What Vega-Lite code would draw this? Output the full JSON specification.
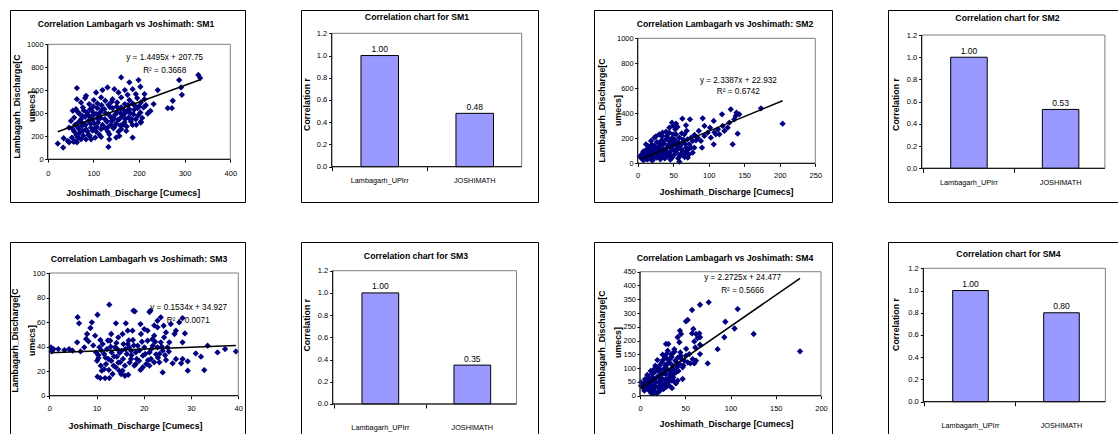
{
"$schema": "https://vega.github.io/schema/vega-lite/v6.json",
"padding": {"left": 9, "top": 9, "right": 0, "bottom": 0},
"background": "white",
"datasets": {
"sm1": [{"x":22,"y":137},{"x":34,"y":102},{"x":35,"y":183},{"x":44,"y":160},{"x":47,"y":148},{"x":53,"y":189},{"x":57,"y":151},{"x":60,"y":160},{"x":64,"y":148},{"x":67,"y":189},{"x":73,"y":174},{"x":84,"y":174},{"x":89,"y":212},{"x":95,"y":174},{"x":104,"y":189},{"x":117,"y":195},{"x":135,"y":174},{"x":135,"y":218},{"x":150,"y":189},{"x":157,"y":203},{"x":186,"y":189},{"x":133,"y":108},
{"x":47,"y":276},{"x":55,"y":262},{"x":58,"y":241},{"x":66,"y":282},{"x":77,"y":247},{"x":84,"y":262},{"x":95,"y":276},{"x":106,"y":241},{"x":117,"y":262},{"x":131,"y":276},{"x":146,"y":282},{"x":161,"y":262},{"x":172,"y":247},
{"x":51,"y":334},{"x":58,"y":363},{"x":67,"y":320},{"x":73,"y":349},{"x":80,"y":305},{"x":89,"y":334},{"x":95,"y":363},{"x":102,"y":311},{"x":111,"y":349},{"x":120,"y":299},{"x":130,"y":328},{"x":139,"y":363},{"x":150,"y":311},{"x":157,"y":349},{"x":168,"y":320},{"x":177,"y":363},{"x":186,"y":299},{"x":193,"y":349},{"x":204,"y":328},
{"x":55,"y":422},{"x":62,"y":436},{"x":69,"y":398},{"x":77,"y":451},{"x":86,"y":407},{"x":93,"y":436},{"x":101,"y":392},{"x":109,"y":445},{"x":115,"y":407},{"x":124,"y":436},{"x":133,"y":392},{"x":142,"y":445},{"x":152,"y":407},{"x":161,"y":451},{"x":169,"y":398},{"x":179,"y":436},{"x":188,"y":392},{"x":197,"y":445},{"x":203,"y":407},{"x":210,"y":451},{"x":219,"y":398},
{"x":64,"y":523},{"x":73,"y":494},{"x":82,"y":532},{"x":91,"y":480},{"x":101,"y":515},{"x":109,"y":485},{"x":117,"y":538},{"x":126,"y":509},{"x":133,"y":474},{"x":142,"y":523},{"x":152,"y":494},{"x":161,"y":538},{"x":169,"y":480},{"x":179,"y":515},{"x":186,"y":485},{"x":196,"y":532},{"x":204,"y":494},{"x":212,"y":523},
{"x":64,"y":619},{"x":84,"y":552},{"x":106,"y":581},{"x":120,"y":602},{"x":131,"y":625},{"x":146,"y":610},{"x":155,"y":581},{"x":161,"y":712},{"x":169,"y":602},{"x":175,"y":561},{"x":179,"y":669},{"x":186,"y":610},{"x":193,"y":567},{"x":199,"y":689},{"x":203,"y":631},{"x":212,"y":567},{"x":241,"y":602},
{"x":263,"y":445},{"x":272,"y":445},{"x":274,"y":509},{"x":288,"y":689},{"x":292,"y":625},{"x":294,"y":561},{"x":330,"y":733},{"x":334,"y":706},{"x":204,"y":320},
{"x":70,"y":230},{"x":75,"y":290},{"x":82,"y":370},{"x":98,"y":250},{"x":108,"y":280},{"x":112,"y":380},{"x":125,"y":350},{"x":128,"y":265},{"x":138,"y":300},{"x":145,"y":355},{"x":155,"y":240},{"x":160,"y":400},{"x":165,"y":300},{"x":174,"y":420},{"x":182,"y":330},{"x":190,"y":470},{"x":198,"y":380},{"x":60,"y":300},{"x":66,"y":410},{"x":78,"y":205},{"x":92,"y":205},{"x":100,"y":460},{"x":118,"y":470},{"x":140,"y":500},{"x":158,"y":440},
{"x":63,"y":210},{"x":68,"y":265},{"x":72,"y":330},{"x":76,"y":375},{"x":79,"y":425},{"x":83,"y":300},{"x":87,"y":240},{"x":90,"y":380},{"x":94,"y":310},{"x":97,"y":420},{"x":99,"y":345},{"x":103,"y":265},{"x":106,"y":395},{"x":110,"y":320},{"x":113,"y":215},{"x":116,"y":360},{"x":119,"y":430},{"x":122,"y":285},{"x":127,"y":400},{"x":129,"y":330},{"x":132,"y":240},{"x":136,"y":455},{"x":141,"y":335},{"x":144,"y":270},{"x":147,"y":385},{"x":151,"y":460},{"x":154,"y":345},{"x":159,"y":295},{"x":163,"y":375},{"x":166,"y":430},{"x":170,"y":350},{"x":173,"y":285},{"x":176,"y":470},{"x":181,"y":400},{"x":184,"y":350},{"x":189,"y":430},{"x":194,"y":300},{"x":200,"y":460},{"x":207,"y":360},{"x":215,"y":470},{"x":225,"y":420},{"x":232,"y":480}],
"sm2": [{"x":4.7,"y":45},{"x":6,"y":67},{"x":8,"y":24},{"x":9.4,"y":85},{"x":10.8,"y":51},{"x":12.7,"y":112},{"x":14,"y":32},{"x":15.5,"y":77},{"x":16.4,"y":125},{"x":17.8,"y":45},{"x":19.2,"y":93},{"x":21,"y":24},{"x":22.5,"y":67},{"x":23.5,"y":139},{"x":24.9,"y":99},{"x":26.7,"y":45},{"x":28,"y":125},{"x":29.6,"y":77},{"x":30.5,"y":165},{"x":31.9,"y":32},{"x":33.3,"y":112},{"x":35,"y":67},{"x":36,"y":152},{"x":37.5,"y":99},{"x":38.9,"y":45},{"x":39.9,"y":192},{"x":41.3,"y":125},{"x":42.7,"y":72},{"x":44.6,"y":152},{"x":45.5,"y":93},{"x":47,"y":179},{"x":48.3,"y":45},{"x":50.2,"y":112},{"x":52,"y":72},{"x":53,"y":152},{"x":54.9,"y":85},{"x":56.8,"y":125},{"x":59.6,"y":59},{"x":62.4,"y":104},{"x":65.7,"y":72},{"x":68,"y":93},{"x":70.4,"y":45},{"x":58.6,"y":13},{"x":75,"y":125},{"x":77.4,"y":85},{"x":11.7,"y":152},{"x":18.8,"y":179},{"x":23.5,"y":205},{"x":30.5,"y":232},{"x":35,"y":245},{"x":39.9,"y":253},{"x":44.6,"y":285},{"x":48.3,"y":325},{"x":50,"y":232},{"x":53,"y":272},
{"x":42,"y":205},{"x":44.6,"y":245},{"x":47,"y":125},{"x":49,"y":179},{"x":51.6,"y":99},{"x":54,"y":232},{"x":56,"y":152},{"x":58.6,"y":205},{"x":61,"y":112},{"x":63.3,"y":165},{"x":65.7,"y":232},{"x":68,"y":125},{"x":70,"y":192},{"x":72.7,"y":152},{"x":75,"y":205},{"x":77.4,"y":179},{"x":79.7,"y":125},{"x":84.4,"y":205},{"x":89,"y":179},{"x":93.8,"y":219},{"x":98.5,"y":245},{"x":103,"y":205},{"x":110,"y":232},{"x":122,"y":259},{"x":126.6,"y":285},{"x":129,"y":325},
{"x":25.8,"y":216},{"x":34.2,"y":216},{"x":56,"y":291},{"x":62.9,"y":357},{"x":68,"y":304},{"x":73.6,"y":352},{"x":54,"y":317},{"x":50,"y":299},{"x":91.5,"y":360},{"x":94,"y":299},{"x":86,"y":259},{"x":90.5,"y":125},{"x":80,"y":227},{"x":82,"y":184},{"x":101.8,"y":285},{"x":107,"y":339},{"x":108,"y":248},{"x":107,"y":152},{"x":113,"y":272},{"x":115,"y":232},{"x":119.6,"y":299},{"x":118.7,"y":392},{"x":131,"y":432},{"x":133.7,"y":152},{"x":136,"y":352},{"x":139,"y":405},{"x":140.7,"y":237},{"x":138,"y":379},{"x":143,"y":392},{"x":173.5,"y":440},{"x":204,"y":317},
{"x":6,"y":40},{"x":9,"y":60},{"x":12,"y":35},{"x":13,"y":70},{"x":16,"y":55},{"x":20,"y":40},{"x":25,"y":60},{"x":27,"y":85},{"x":32,"y":50},{"x":34,"y":90},{"x":38,"y":75},{"x":43,"y":60},{"x":46,"y":30},{"x":57,"y":40},{"x":61,"y":75},{"x":66,"y":50},{"x":72,"y":70},{"x":3,"y":55},{"x":7,"y":80},
{"x":5,"y":60},{"x":7,"y":35},{"x":8,"y":95},{"x":10,"y":70},{"x":11,"y":40},{"x":13,"y":100},{"x":14,"y":55},{"x":15,"y":135},{"x":17,"y":65},{"x":18,"y":100},{"x":19,"y":30},{"x":20,"y":150},{"x":21,"y":80},{"x":22,"y":110},{"x":24,"y":50},{"x":26,"y":120},{"x":27,"y":170},{"x":29,"y":95},{"x":31,"y":140},{"x":33,"y":60},{"x":34,"y":185},{"x":36,"y":110},{"x":37,"y":160},{"x":38,"y":40},{"x":40,"y":95},{"x":41,"y":220},{"x":43,"y":140},{"x":45,"y":175},{"x":46,"y":65},{"x":48,"y":200},{"x":50,"y":150},{"x":52,"y":190},{"x":55,"y":110},{"x":57,"y":170},{"x":60,"y":140},{"x":62,"y":240},{"x":64,"y":190},{"x":67,"y":155},{"x":69,"y":260},{"x":71,"y":110}],
"sm3": [{"x":12.7,"y":74.2},{"x":10.2,"y":66},{"x":6,"y":64},{"x":6.3,"y":59},{"x":14.1,"y":59},{"x":17.8,"y":69.3},{"x":18.1,"y":68.8},{"x":21.2,"y":68.2},{"x":16.2,"y":59},{"x":19.3,"y":58.4},{"x":22.2,"y":57.3},{"x":16.6,"y":53},{"x":20.1,"y":54.3},{"x":22.9,"y":55.7},{"x":24.2,"y":57},
{"x":10.2,"y":15.5},{"x":10.8,"y":14.4},{"x":11.8,"y":14.4},{"x":12.7,"y":14.4},{"x":13.4,"y":17.7},{"x":15.2,"y":17.7},{"x":16,"y":16.3},{"x":16.7,"y":17.1},{"x":14.8,"y":20.4},{"x":24,"y":19},{"x":29.3,"y":20.4},{"x":32.8,"y":20.9},
{"x":39.5,"y":36.1},{"x":37.2,"y":38},{"x":35.6,"y":35.3},{"x":33.5,"y":40.8},{"x":32.1,"y":31.8},{"x":31,"y":34.5},{"x":29.3,"y":28},{"x":28.2,"y":29.9},{"x":27.9,"y":26.4},{"x":26.8,"y":29.9},{"x":28.2,"y":43.5},{"x":28.7,"y":50.8},{"x":26.5,"y":50.3},{"x":25.4,"y":43.5},{"x":25,"y":39.4},{"x":24.7,"y":29.1},{"x":26.1,"y":26.4},
{"x":0.35,"y":39.4},{"x":0.5,"y":36.1},{"x":0.9,"y":38},{"x":1.9,"y":38},{"x":3.2,"y":37.2},{"x":4.2,"y":38},{"x":4.9,"y":36.7},{"x":5.9,"y":43.5},{"x":6.6,"y":36.1},{"x":7.4,"y":39.4},{"x":7.8,"y":46.2},{"x":8,"y":50.3},{"x":8.3,"y":44.3},{"x":8.7,"y":55.2},{"x":9,"y":59.8},{"x":9.7,"y":48.9},{"x":9.9,"y":35.3},{"x":10.1,"y":28.5},{"x":10.4,"y":30.7},{"x":10.6,"y":39.4},
{"x":11.3,"y":42.1},{"x":11.6,"y":34},{"x":12,"y":25.8},{"x":12.2,"y":38},{"x":12.5,"y":29.9},{"x":12.9,"y":44.8},{"x":13.2,"y":35.3},{"x":13.6,"y":24.5},{"x":13.9,"y":39.4},{"x":14.3,"y":31.8},{"x":14.6,"y":47.6},{"x":15,"y":27.2},{"x":15.3,"y":36.7},{"x":15.7,"y":42.1},{"x":16,"y":24.5},{"x":16.4,"y":34},{"x":16.9,"y":39.4},{"x":17.3,"y":29.9},{"x":17.7,"y":45.4},{"x":18,"y":24.5},{"x":18.3,"y":35.3},{"x":18.7,"y":40.8},{"x":19,"y":28.5},{"x":19.4,"y":50.3},{"x":19.8,"y":32.6},{"x":20.1,"y":39.4},{"x":20.5,"y":25.8},{"x":20.8,"y":44.8},{"x":21.2,"y":35.3},{"x":21.5,"y":29.9},{"x":21.9,"y":40.8},{"x":22.2,"y":48.9},{"x":22.6,"y":33.7},{"x":22.9,"y":39.4},{"x":23.3,"y":27.2},{"x":23.6,"y":43.5},{"x":24,"y":36.7},{"x":24.3,"y":47.6},{"x":24.7,"y":51.6},{"x":10.8,"y":45.4},{"x":10.9,"y":24.5},{"x":11.1,"y":20.4},{"x":11.6,"y":21.7},{"x":13.1,"y":28.5},{"x":14.1,"y":23.1},{"x":15.5,"y":20.4},{"x":17.3,"y":36.7},{"x":18.3,"y":25.8},{"x":19.8,"y":23.1},{"x":21.2,"y":24.5},{"x":22.2,"y":27.2},{"x":23.3,"y":34},{"x":14.4,"y":38},{"x":16.6,"y":42.1},{"x":13.1,"y":50.3},{"x":15.5,"y":50.3},{"x":17.6,"y":53},{"x":20.8,"y":53},{"x":22.9,"y":61.1},{"x":23.6,"y":63.9},{"x":25.7,"y":58.4},{"x":26.8,"y":53},{"x":27.5,"y":59.8},{"x":28.2,"y":63.3},{"x":21.4,"y":69.3},
{"x":11,"y":37},{"x":11.9,"y":31},{"x":12.4,"y":45},{"x":13,"y":40},{"x":13.7,"y":32},{"x":14.2,"y":43},{"x":14.9,"y":35},{"x":15.6,"y":30},{"x":16.1,"y":38},{"x":16.8,"y":45},{"x":17.4,"y":33},{"x":17.9,"y":41},{"x":18.5,"y":30},{"x":19.1,"y":37},{"x":19.6,"y":44},{"x":20.3,"y":34},{"x":20.9,"y":29},{"x":21.6,"y":38},{"x":22.4,"y":44},{"x":23,"y":31},{"x":23.8,"y":40},{"x":24.5,"y":33},{"x":25.3,"y":36},{"x":12.6,"y":21},{"x":14.6,"y":27},{"x":17,"y":27},{"x":19.3,"y":21},{"x":21.8,"y":46},{"x":9.3,"y":41},{"x":10.4,"y":33}],
"sm4": [{"x":75.9,"y":338.7},{"x":66.3,"y":330},{"x":57.5,"y":311},{"x":52.7,"y":274.6},{"x":50.8,"y":270},{"x":58.9,"y":242},{"x":57.5,"y":226},{"x":61.9,"y":224},{"x":65.6,"y":226},{"x":66.3,"y":212},{"x":63.7,"y":209},{"x":60,"y":197},{"x":66.3,"y":185},{"x":61.1,"y":175},{"x":66.3,"y":151},{"x":58.2,"y":133},{"x":61.9,"y":127},{"x":60,"y":117},{"x":55.6,"y":117},{"x":74.8,"y":117},{"x":44.2,"y":236},{"x":45.3,"y":224},{"x":41.6,"y":212},{"x":43.5,"y":194},{"x":28.7,"y":188},{"x":107.9,"y":314.5},{"x":94.3,"y":268.5},{"x":104.5,"y":244},{"x":93.2,"y":212},{"x":85.8,"y":169},{"x":125.6,"y":224},{"x":176.8,"y":161},{"x":39,"y":47},
{"x":1.1,"y":36.3},{"x":1.1,"y":48.4},{"x":2.9,"y":42.3},{"x":4.8,"y":44.8},{"x":6.6,"y":54.4},{"x":8.5,"y":36.3},{"x":9.6,"y":66.5},{"x":11,"y":48.4},{"x":12.2,"y":30.2},{"x":13.3,"y":78.6},{"x":14,"y":18.1},{"x":14.7,"y":54.4},{"x":15.8,"y":96.8},{"x":16.6,"y":36.3},{"x":17.7,"y":12.1},{"x":18.4,"y":66.5},{"x":19.2,"y":129.4},{"x":19.9,"y":30.2},{"x":20.6,"y":48.4},{"x":21.4,"y":108.9},{"x":22.1,"y":18.1},{"x":22.8,"y":78.6},{"x":23.6,"y":42.3},{"x":24.3,"y":121},{"x":25,"y":60.5},{"x":25.8,"y":24.2},{"x":26.5,"y":96.8},{"x":27.3,"y":44.8},{"x":28,"y":139},{"x":28.7,"y":78.6},{"x":29.8,"y":115},{"x":30.6,"y":163},{"x":31.3,"y":187.5},{"x":32.4,"y":90.7},{"x":33.1,"y":133},{"x":34.3,"y":54.4},{"x":35.4,"y":151},{"x":36.1,"y":108.9},{"x":37.2,"y":78.6},{"x":37.9,"y":169},{"x":39,"y":127},{"x":39.8,"y":44.8},{"x":40.9,"y":102.8},{"x":42,"y":139},{"x":43.5,"y":115},{"x":44.6,"y":157},{"x":46,"y":133},{"x":47.1,"y":102.8},{"x":49,"y":127},{"x":50.8,"y":145},{"x":52.7,"y":121},{"x":54.5,"y":151},
{"x":4.8,"y":18.1},{"x":7.4,"y":27.8},{"x":10.3,"y":18.1},{"x":12.5,"y":8.5},{"x":15.5,"y":8.5},{"x":18.4,"y":8.5},{"x":21.4,"y":32.7},{"x":24.3,"y":36.3},{"x":26.9,"y":27.8},{"x":29.5,"y":32.7},{"x":32.4,"y":36.3},{"x":35.4,"y":27.8},{"x":31.7,"y":64},{"x":34.6,"y":78.6},{"x":26.9,"y":81},{"x":16.9,"y":108.9},{"x":19.5,"y":90.7},{"x":22.1,"y":64},{"x":28.7,"y":108.9},{"x":36.8,"y":66.5},{"x":39.8,"y":84.7},{"x":41.6,"y":54.4},{"x":47.1,"y":60.5},{"x":37.2,"y":53},{"x":25,"y":149},{"x":30.6,"y":133},{"x":34.3,"y":151},
{"x":3,"y":30},{"x":5.5,"y":60},{"x":7,"y":40},{"x":8,"y":75},{"x":9,"y":25},{"x":10.5,"y":55},{"x":11.8,"y":90},{"x":13,"y":40},{"x":14.2,"y":65},{"x":15.2,"y":25},{"x":16,"y":85},{"x":17.2,"y":50},{"x":18.8,"y":100},{"x":20,"y":70},{"x":21,"y":15},{"x":22.5,"y":95},{"x":23.2,"y":55},{"x":24.8,"y":80},{"x":25.5,"y":130},{"x":26.2,"y":40},{"x":27.8,"y":110},{"x":28.5,"y":60},{"x":29,"y":150},{"x":30.2,"y":95},{"x":31,"y":50},{"x":32.8,"y":120},{"x":33.5,"y":75},{"x":35,"y":140},{"x":36.5,"y":95},{"x":38.2,"y":160},{"x":40.5,"y":120},{"x":42.5,"y":90},{"x":45,"y":145},{"x":48,"y":110},{"x":51,"y":170}],
"t1": [{"x":22,"y":240},{"x":334,"y":692}],
"t2": [{"x":5,"y":35},{"x":204,"y":500}],
"t3": [{"x":0.35,"y":35.0},{"x":39.5,"y":41.0}],
"t4": [{"x":1.1,"y":27},{"x":176.8,"y":426}],
"b1": [{"station":"Lambagarh_UPIrr","r":1.0},{"station":"JOSHIMATH","r":0.48}],
"b2": [{"station":"Lambagarh_UPIrr","r":1.0},{"station":"JOSHIMATH","r":0.53}],
"b3": [{"station":"Lambagarh_UPIrr","r":1.0},{"station":"JOSHIMATH","r":0.35}],
"b4": [{"station":"Lambagarh_UPIrr","r":1.0},{"station":"JOSHIMATH","r":0.80}]
},
"spacing": 38,
"vconcat": [
{"hconcat": [
{"width": 235, "height": 192,
 "title": {"text": "Correlation Lambagarh vs Joshimath: SM1", "offset": -19, "dx": -1.5},
 "layer": [
  {"data": {"name": "sm1"}, "mark": {"type": "point", "shape": "diamond", "filled": true, "size": 40, "color": "#000080", "opacity": 1},
   "encoding": {
    "x": {"field": "x", "type": "quantitative", "scale": {"domain": [-82.6, 432.2], "nice": false, "zero": false},
          "axis": {"values": [0,100,200,300,400], "format": "d", "tickCount": 20, "offset": -43, "title": "Joshimath_Discharge [Cumecs]", "titleX": 122.7, "titleY": 33, "labelPadding": 7}},
    "y": {"field": "y", "type": "quantitative", "scale": {"domain": [-371.3, 1298.3], "nice": false, "zero": false},
          "axis": {"values": [0,200,400,600,800,1000], "format": "d", "tickCount": 20, "offset": -37.7, "title": ["Lambagarh_Discharge[C", "umecs]"], "titleX": -31.4, "titleY": 96, "titleLineHeight": 15.4}}
   }},
  {"data": {"values": [{}]}, "mark": {"type": "rect", "fill": "transparent", "stroke": "#808080", "strokeWidth": 1},
   "encoding": {"x": {"datum": 0}, "x2": {"datum": 400}, "y": {"datum": 0}, "y2": {"datum": 1000}}},
  {"data": {"values": [{}]}, "mark": {"type": "rule", "color": "#000", "strokeWidth": 1},
   "encoding": {"x": {"datum": 0}, "y": {"datum": 0}, "y2": {"datum": 1000}}},
  {"data": {"values": [{}]}, "mark": {"type": "rule", "color": "#000", "strokeWidth": 1},
   "encoding": {"x": {"datum": 0}, "x2": {"datum": 400}, "y": {"datum": 0}}},
  {"data": {"name": "t1"}, "mark": {"type": "line", "color": "#000", "strokeWidth": 1.5},
   "encoding": {"x": {"field": "x", "type": "quantitative"}, "y": {"field": "y", "type": "quantitative"}}},
  {"data": {"values": [{}]}, "mark": {"type": "text", "fontSize": 8.2, "align": "center", "baseline": "middle"},
   "encoding": {"x": {"datum": 256.3}, "y": {"datum": 880}, "text": {"value": "y = 1.4495x + 207.75"}}},
  {"data": {"values": [{}]}, "mark": {"type": "text", "fontSize": 8.2, "align": "center", "baseline": "middle"},
   "encoding": {"x": {"datum": 256.3}, "y": {"datum": 772}, "text": {"value": "R² = 0.3668"}}}
 ]},
{"width": 237, "height": 192,
 "title": {"text": "Correlation chart for SM1", "offset": -11.2, "dx": -2.5},
 "layer": [
  {"data": {"name": "b1"},
   "encoding": {
    "x": {"field": "station", "type": "nominal", "sort": null, "scale": {"paddingInner": 0.605, "paddingOuter": 0.55, "align": 0.574, "round": false},
          "axis": {"title": null, "labelAngle": 0, "offset": -35.3, "bandPosition": -0.7667, "tickSize": 4, "labelPadding": 6, "labelFontSize": 7.3}},
    "y": {"field": "r", "type": "quantitative", "scale": {"domain": [-0.3176, 1.4096], "nice": false, "zero": false},
          "axis": {"values": [0,0.2,0.4,0.6,0.8,1,1.2], "tickCount": 20, "format": ".1f", "offset": -30.7, "title": "Correlation r", "titleX": -25.7, "titleY": 94, "labelPadding": 2}}
   },
   "layer": [
    {"mark": {"type": "bar", "fill": "#9999FF", "stroke": "#000", "strokeWidth": 1}},
    {"mark": {"type": "text", "baseline": "bottom", "dy": -1.5, "fontSize": 8.5}, "encoding": {"text": {"field": "r", "type": "quantitative", "format": ".2f"}}}
   ]},
  {"data": {"values": [{}]},
   "layer": [
    {"mark": {"type": "rect", "fill": "transparent", "stroke": "#808080", "strokeWidth": 1},
     "encoding": {"x": {"datum": 0, "type": "quantitative", "scale": {"domain": [-0.1616, 1.0858], "nice": false, "zero": false}, "axis": null}, "x2": {"datum": 1}, "y": {"datum": 0}, "y2": {"datum": 1.2}}},
    {"mark": {"type": "rule", "color": "#000", "strokeWidth": 1},
     "encoding": {"x": {"datum": 0, "type": "quantitative", "axis": null}, "x2": {"datum": 1}, "y": {"datum": 0}}},
    {"mark": {"type": "rule", "color": "#000", "strokeWidth": 1},
     "encoding": {"x": {"datum": 0, "type": "quantitative", "axis": null}, "y": {"datum": 0}, "y2": {"datum": 1.2}}}
   ]}
 ],
 "resolve": {"scale": {"x": "independent"}, "axis": {"x": "independent"}}},
{"width": 238, "height": 192,
 "title": {"text": "Correlation Lambagarh vs Joshimath: SM2", "offset": -18.8, "dx": 12},
 "layer": [
  {"data": {"name": "sm2"}, "mark": {"type": "point", "shape": "diamond", "filled": true, "size": 40, "color": "#000080", "opacity": 1},
   "encoding": {
    "x": {"field": "x", "type": "quantitative", "scale": {"domain": [-61.5, 273.5], "nice": false, "zero": false},
          "axis": {"values": [0,50,100,150,200,250], "format": "d", "tickCount": 20, "offset": -38.7, "title": "Joshimath_Discharge [Cumecs]", "titleX": 132, "titleY": 28.5, "labelPadding": 5}},
    "y": {"field": "y", "type": "quantitative", "scale": {"domain": [-309.6, 1226.4], "nice": false, "zero": false},
          "axis": {"values": [0,200,400,600,800,1000], "format": "d", "tickCount": 20, "offset": -43.7, "title": ["Lambagarh_Discharge[C", "umecs]"], "titleX": -36, "titleY": 100, "titleLineHeight": 16}}
   }},
  {"data": {"values": [{}]}, "mark": {"type": "rect", "fill": "transparent", "stroke": "#808080", "strokeWidth": 1},
   "encoding": {"x": {"datum": 0}, "x2": {"datum": 250}, "y": {"datum": 0}, "y2": {"datum": 1000}}},
  {"data": {"values": [{}]}, "mark": {"type": "rule", "color": "#000", "strokeWidth": 1},
   "encoding": {"x": {"datum": 0}, "y": {"datum": 0}, "y2": {"datum": 1000}}},
  {"data": {"values": [{}]}, "mark": {"type": "rule", "color": "#000", "strokeWidth": 1},
   "encoding": {"x": {"datum": 0}, "x2": {"datum": 250}, "y": {"datum": 0}}},
  {"data": {"name": "t2"}, "mark": {"type": "line", "color": "#000", "strokeWidth": 1.5},
   "encoding": {"x": {"field": "x", "type": "quantitative"}, "y": {"field": "y", "type": "quantitative"}}},
  {"data": {"values": [{}]}, "mark": {"type": "text", "fontSize": 8.2, "align": "center", "baseline": "middle"},
   "encoding": {"x": {"datum": 141.7}, "y": {"datum": 658.7}, "text": {"value": "y = 2.3387x + 22.932"}}},
  {"data": {"values": [{}]}, "mark": {"type": "text", "fontSize": 8.2, "align": "center", "baseline": "middle"},
   "encoding": {"x": {"datum": 141.7}, "y": {"datum": 570.7}, "text": {"value": "R² = 0.6742"}}}
 ]},
{"width": 237, "height": 192,
 "title": {"text": "Correlation chart for SM2", "offset": -12.2, "dx": 1},
 "layer": [
  {"data": {"name": "b2"},
   "encoding": {
    "x": {"field": "station", "type": "nominal", "sort": null, "scale": {"paddingInner": 0.6017, "paddingOuter": 0.5938, "align": 0.576, "round": false},
          "axis": {"title": null, "labelAngle": 0, "offset": -33.7, "bandPosition": -0.7555, "tickSize": 4, "labelPadding": 6, "labelFontSize": 7.3}},
    "y": {"field": "r", "type": "quantitative", "scale": {"domain": [-0.3034, 1.4251], "nice": false, "zero": false},
          "axis": {"values": [0,0.2,0.4,0.6,0.8,1,1.2], "tickCount": 20, "format": ".1f", "offset": -33.7, "title": "Correlation r", "titleX": -26.7, "titleY": 94, "labelPadding": 2}}
   },
   "layer": [
    {"mark": {"type": "bar", "fill": "#9999FF", "stroke": "#000", "strokeWidth": 1}},
    {"mark": {"type": "text", "baseline": "bottom", "dy": -1.5, "fontSize": 8.5}, "encoding": {"text": {"field": "r", "type": "quantitative", "format": ".2f"}}}
   ]},
  {"data": {"values": [{}]},
   "layer": [
    {"mark": {"type": "rect", "fill": "transparent", "stroke": "#808080", "strokeWidth": 1},
     "encoding": {"x": {"datum": 0, "type": "quantitative", "scale": {"domain": [-0.1838, 1.1097], "nice": false, "zero": false}, "axis": null}, "x2": {"datum": 1}, "y": {"datum": 0}, "y2": {"datum": 1.2}}},
    {"mark": {"type": "rule", "color": "#000", "strokeWidth": 1},
     "encoding": {"x": {"datum": 0, "type": "quantitative", "axis": null}, "x2": {"datum": 1}, "y": {"datum": 0}}},
    {"mark": {"type": "rule", "color": "#000", "strokeWidth": 1},
     "encoding": {"x": {"datum": 0, "type": "quantitative", "axis": null}, "y": {"datum": 0}, "y2": {"datum": 1.2}}}
   ]}
 ],
 "resolve": {"scale": {"x": "independent"}, "axis": {"x": "independent"}}}
], "spacing": 56, "bounds": "flush"},
{"hconcat": [
{"width": 235, "height": 192,
 "title": {"text": "Correlation Lambagarh vs Joshimath: SM3", "offset": -21.3, "dx": 11.5},
 "layer": [
  {"data": {"name": "sm3"}, "mark": {"type": "point", "shape": "diamond", "filled": true, "size": 40, "color": "#000080", "opacity": 1},
   "encoding": {
    "x": {"field": "x", "type": "quantitative", "scale": {"domain": [-8.32, 41.42], "nice": false, "zero": false},
          "axis": {"values": [0,10,20,30,40], "format": "d", "tickCount": 20, "offset": -38.3, "title": "Joshimath_Discharge [Cumecs]", "titleX": 125, "titleY": 30, "labelPadding": 5.7}},
    "y": {"field": "y", "type": "quantitative", "scale": {"domain": [-31.2, 125.27], "nice": false, "zero": false},
          "axis": {"values": [0,20,40,60,80,100], "format": "d", "tickCount": 20, "offset": -39.3, "title": ["Lambagarh_Discharge[C", "umecs]"], "titleX": -35.3, "titleY": 98, "titleLineHeight": 17}}
   }},
  {"data": {"values": [{}]}, "mark": {"type": "rect", "fill": "transparent", "stroke": "#808080", "strokeWidth": 1},
   "encoding": {"x": {"datum": 0}, "x2": {"datum": 40}, "y": {"datum": 0}, "y2": {"datum": 100}}},
  {"data": {"values": [{}]}, "mark": {"type": "rule", "color": "#000", "strokeWidth": 1},
   "encoding": {"x": {"datum": 0}, "y": {"datum": 0}, "y2": {"datum": 100}}},
  {"data": {"values": [{}]}, "mark": {"type": "rule", "color": "#000", "strokeWidth": 1},
   "encoding": {"x": {"datum": 0}, "x2": {"datum": 40}, "y": {"datum": 0}}},
  {"data": {"name": "t3"}, "mark": {"type": "line", "color": "#000", "strokeWidth": 1.5},
   "encoding": {"x": {"field": "x", "type": "quantitative"}, "y": {"field": "y", "type": "quantitative"}}},
  {"data": {"values": [{}]}, "mark": {"type": "text", "fontSize": 8.2, "align": "center", "baseline": "middle"},
   "encoding": {"x": {"datum": 29.5}, "y": {"datum": 71.5}, "text": {"value": "y = 0.1534x + 34.927"}}},
  {"data": {"values": [{}]}, "mark": {"type": "text", "fontSize": 8.2, "align": "center", "baseline": "middle"},
   "encoding": {"x": {"datum": 29.4}, "y": {"datum": 61.1}, "text": {"value": "R² = 0.0071"}}}
 ]},
{"width": 237, "height": 192,
 "title": {"text": "Correlation chart for SM3", "offset": -18.7, "dx": -3.5},
 "layer": [
  {"data": {"name": "b3"},
   "encoding": {
    "x": {"field": "station", "type": "nominal", "sort": null, "scale": {"paddingInner": 0.601, "paddingOuter": 0.5886, "align": 0.563, "round": false},
          "axis": {"title": null, "labelAngle": 0, "offset": -30, "bandPosition": -0.7534, "tickSize": 4, "labelPadding": 15.5, "labelFontSize": 7.3}},
    "y": {"field": "r", "type": "quantitative", "scale": {"domain": [-0.2701, 1.4584], "nice": false, "zero": false},
          "axis": {"values": [0,0.2,0.4,0.6,0.8,1,1.2], "tickCount": 20, "format": ".1f", "offset": -31.7, "title": "Correlation r", "titleX": -26.7, "titleY": 82.7, "labelPadding": 2}}
   },
   "layer": [
    {"mark": {"type": "bar", "fill": "#9999FF", "stroke": "#000", "strokeWidth": 1}},
    {"mark": {"type": "text", "baseline": "bottom", "dy": -1.5, "fontSize": 8.5}, "encoding": {"text": {"field": "r", "type": "quantitative", "format": ".2f"}}}
   ]},
  {"data": {"values": [{}]},
   "layer": [
    {"mark": {"type": "rect", "fill": "transparent", "stroke": "#808080", "strokeWidth": 1},
     "encoding": {"x": {"datum": 0, "type": "quantitative", "scale": {"domain": [-0.1723, 1.1168], "nice": false, "zero": false}, "axis": null}, "x2": {"datum": 1}, "y": {"datum": 0}, "y2": {"datum": 1.2}}},
    {"mark": {"type": "rule", "color": "#000", "strokeWidth": 1},
     "encoding": {"x": {"datum": 0, "type": "quantitative", "axis": null}, "x2": {"datum": 1}, "y": {"datum": 0}}},
    {"mark": {"type": "rule", "color": "#000", "strokeWidth": 1},
     "encoding": {"x": {"datum": 0, "type": "quantitative", "axis": null}, "y": {"datum": 0}, "y2": {"datum": 1.2}}}
   ]}
 ],
 "resolve": {"scale": {"x": "independent"}, "axis": {"x": "independent"}}},
{"width": 238, "height": 192,
 "title": {"text": "Correlation Lambagarh vs Joshimath: SM4", "offset": -20.7, "dx": 12},
 "layer": [
  {"data": {"name": "sm4"}, "mark": {"type": "point", "shape": "diamond", "filled": true, "size": 40, "color": "#000080", "opacity": 1},
   "encoding": {
    "x": {"field": "x", "type": "quantitative", "scale": {"domain": [-50.83, 212.15], "nice": false, "zero": false},
          "axis": {"values": [0,50,100,150,200], "format": "d", "tickCount": 20, "offset": -38.3, "title": "Joshimath_Discharge [Cumecs]", "titleX": 132, "titleY": 27.5, "labelPadding": 5.7}},
    "y": {"field": "y", "type": "quantitative", "scale": {"domain": [-139, 557.8], "nice": false, "zero": false},
          "axis": {"values": [0,50,100,150,200,250,300,350,400,450], "format": "d", "tickCount": 20, "offset": -46, "title": ["Lambagarh_Discharge[C", "umecs]"], "titleX": -39, "titleY": 100, "titleLineHeight": 16}}
   }},
  {"data": {"values": [{}]}, "mark": {"type": "rect", "fill": "transparent", "stroke": "#808080", "strokeWidth": 1},
   "encoding": {"x": {"datum": 0}, "x2": {"datum": 200}, "y": {"datum": 0}, "y2": {"datum": 450}}},
  {"data": {"values": [{}]}, "mark": {"type": "rule", "color": "#000", "strokeWidth": 1},
   "encoding": {"x": {"datum": 0}, "y": {"datum": 0}, "y2": {"datum": 450}}},
  {"data": {"values": [{}]}, "mark": {"type": "rule", "color": "#000", "strokeWidth": 1},
   "encoding": {"x": {"datum": 0}, "x2": {"datum": 200}, "y": {"datum": 0}}},
  {"data": {"name": "t4"}, "mark": {"type": "line", "color": "#000", "strokeWidth": 1.5},
   "encoding": {"x": {"field": "x", "type": "quantitative"}, "y": {"field": "y", "type": "quantitative"}}},
  {"data": {"values": [{}]}, "mark": {"type": "text", "fontSize": 8.2, "align": "center", "baseline": "middle"},
   "encoding": {"x": {"datum": 113.4}, "y": {"datum": 425.8}, "text": {"value": "y = 2.2725x + 24.477"}}},
  {"data": {"values": [{}]}, "mark": {"type": "text", "fontSize": 8.2, "align": "center", "baseline": "middle"},
   "encoding": {"x": {"datum": 113.4}, "y": {"datum": 378.6}, "text": {"value": "R² = 0.5666"}}}
 ]},
{"width": 237, "height": 192,
 "title": {"text": "Correlation chart for SM4", "offset": -16.3, "dx": 2},
 "layer": [
  {"data": {"name": "b4"},
   "encoding": {
    "x": {"field": "station", "type": "nominal", "sort": null, "scale": {"paddingInner": 0.6088, "paddingOuter": 0.6066, "align": 0.586, "round": false},
          "axis": {"title": null, "labelAngle": 0, "offset": -32.3, "bandPosition": -0.778, "tickSize": 4, "labelPadding": 15.5, "labelFontSize": 7.3}},
    "y": {"field": "r", "type": "quantitative", "scale": {"domain": [-0.2906, 1.4366], "nice": false, "zero": false},
          "axis": {"values": [0,0.2,0.4,0.6,0.8,1,1.2], "tickCount": 20, "format": ".1f", "offset": -35.3, "title": "Correlation r", "titleX": -28.3, "titleY": 82, "labelPadding": 2}}
   },
   "layer": [
    {"mark": {"type": "bar", "fill": "#9999FF", "stroke": "#000", "strokeWidth": 1}},
    {"mark": {"type": "text", "baseline": "bottom", "dy": -1.5, "fontSize": 8.5}, "encoding": {"text": {"field": "r", "type": "quantitative", "format": ".2f"}}}
   ]},
  {"data": {"values": [{}]},
   "layer": [
    {"mark": {"type": "rect", "fill": "transparent", "stroke": "#808080", "strokeWidth": 1},
     "encoding": {"x": {"datum": 0, "type": "quantitative", "scale": {"domain": [-0.194, 1.1077], "nice": false, "zero": false}, "axis": null}, "x2": {"datum": 1}, "y": {"datum": 0}, "y2": {"datum": 1.2}}},
    {"mark": {"type": "rule", "color": "#000", "strokeWidth": 1},
     "encoding": {"x": {"datum": 0, "type": "quantitative", "axis": null}, "x2": {"datum": 1}, "y": {"datum": 0}}},
    {"mark": {"type": "rule", "color": "#000", "strokeWidth": 1},
     "encoding": {"x": {"datum": 0, "type": "quantitative", "axis": null}, "y": {"datum": 0}, "y2": {"datum": 1.2}}}
   ]}
 ],
 "resolve": {"scale": {"x": "independent"}, "axis": {"x": "independent"}}}
], "spacing": 56, "bounds": "flush"}
],
"config": {
 "font": "Liberation Sans",
 "view": {"stroke": "#000000", "strokeWidth": 1},
 "axis": {"grid": false, "domain": false, "ticks": true, "tickColor": "#000", "tickSize": 3, "tickWidth": 1, "labelColor": "#000", "labelFont": "Liberation Sans", "labelFontSize": 7.5, "labelPadding": 1.5, "labelOverlap": false, "labelFlush": false, "titleFont": "Liberation Sans", "titleFontSize": 8.8, "titleFontWeight": "bold", "titleColor": "#000", "titleBaseline": "middle"},
 "title": {"font": "Liberation Sans", "fontSize": 8.7, "fontWeight": "bold", "color": "#000", "baseline": "middle", "anchor": "middle", "frame": "group"},
 "text": {"font": "Liberation Sans", "color": "#000"}
}
}
